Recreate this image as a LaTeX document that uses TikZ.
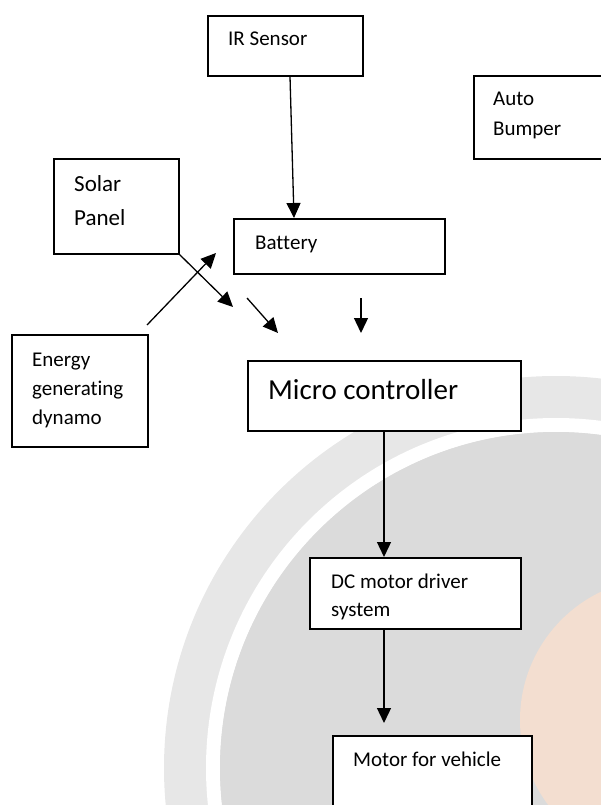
\documentclass[tikz,border=0pt]{standalone}
\usepackage{fontspec}
\setmainfont{Carlito}[Ligatures=NoCommon]
\usepackage{tikz}
\usetikzlibrary{arrows, positioning, calc}
\usetikzlibrary{arrows.meta}
\tikzset{>={Triangle[width=14pt,length=15pt]}}
\usepackage{xcolor}
\definecolor{wmouter}{HTML}{E7E7E7}
\definecolor{wminner}{HTML}{DBDBDB}
\definecolor{wmorange}{HTML}{F3DED0}

% lines of a label, first baseline on the anchor
\newcommand{\lines}[1]{\begin{tabular}[t]{@{}l@{}}#1\end{tabular}}

\begin{document}
\begin{tikzpicture}[
      x=1pt, y=-1pt,
      box/.style = {draw, line width=1.6pt, fill=white, rectangle, inner sep=0pt, anchor=north west},
      txt/.style = {anchor=base west, inner sep=0pt, font=\fontsize{21}{30}\selectfont},
      arrow/.style = {->, line width=1.3pt}
    ]
    \clip (0,0) rectangle (601,805);

    % watermark in the background
    \fill[wmouter] (556,768) circle (392);
    \draw[white, line width=14pt] (556,768) circle (343);
    \fill[wminner] (556,768) circle (336);
    \fill[wmorange] (662,720) circle (142);

    \node[box, minimum width=155pt, minimum height=60pt] (ir) at (207,15) {};
    \node[box, minimum width=135pt, minimum height=83pt] (bumper) at (473,75) {};
    \node[box, minimum width=125pt, minimum height=95pt] (solar) at (53,158) {};
    \node[box, minimum width=211pt, minimum height=55pt] (battery) at (233,218) {};
    \node[box, minimum width=136pt, minimum height=112pt] (dynamo) at (11,334) {};
    \node[box, minimum width=273pt, minimum height=70pt] (micro) at (247,360) {};
    \node[box, minimum width=211pt, minimum height=71pt] (dc) at (309,557) {};
    \node[box, minimum width=199pt, minimum height=80pt] (motor) at (332,735) {};

    \node[txt] (irtext) at ($(ir.north west)+(21,31)$) {IR Sensor};
    \node[txt] (bumpertext) at ($(bumper.north west)+(20,31)$) {\lines{Auto\\Bumper}};
    \node[txt, font=\fontsize{23}{33}\selectfont] (solartext) at ($(solar.north west)+(21,34)$) {\lines{Solar\\Panel}};
    \node[txt] (batterytext) at ($(battery.north west)+(22,31)$) {Battery};
    \node[txt, font=\fontsize{21}{29}\selectfont] (dynamotext) at ($(dynamo.north west)+(21,32)$) {\lines{Energy\\generating\\dynamo}};
    \node[txt, font=\fontsize{29}{34}\selectfont] (microtext) at ($(micro.north west)+(21,39)$) {Micro controller};
    \begin{scope}
      \clip (dc.north west) rectangle ($(dc.south east)+(0,-8)$);
      \node[txt, font=\fontsize{21}{28}\selectfont] (dctext) at ($(dc.north west)+(22,31)$) {\lines{DC motor driver\\system}};
    \end{scope}
    \node[txt] (motortext) at ($(motor.north west)+(21,31)$) {Motor for vehicle};

    \coordinate (solarend) at (233,307);
    \coordinate (dynamostart) at (147,325);
    \coordinate (dynamoend) at (216,253);
    \coordinate (diagstart) at (247,298);
    \coordinate (diagend) at (278,333);
    \coordinate (vertstart) at (361,298);
    \coordinate (vertend) at (361,333);
    \coordinate (motorend) at (384,723);

    \draw[arrow] ($(ir.south west)+(83,0)$) -- ($(battery.north west)+(61,0)$);
    \draw[arrow] (solar.south east) -- (solarend);
    \draw[arrow] (dynamostart) -- (dynamoend);
    \draw[arrow] (diagstart) -- (diagend);
    \draw[arrow] (vertstart) -- (vertend);
    \draw[arrow] ($(micro.south west)+(137,0)$) -- ($(dc.north west)+(75,0)$);
    \draw[arrow] ($(dc.south west)+(75,0)$) -- (motorend);

    \end{tikzpicture}
\end{document}
